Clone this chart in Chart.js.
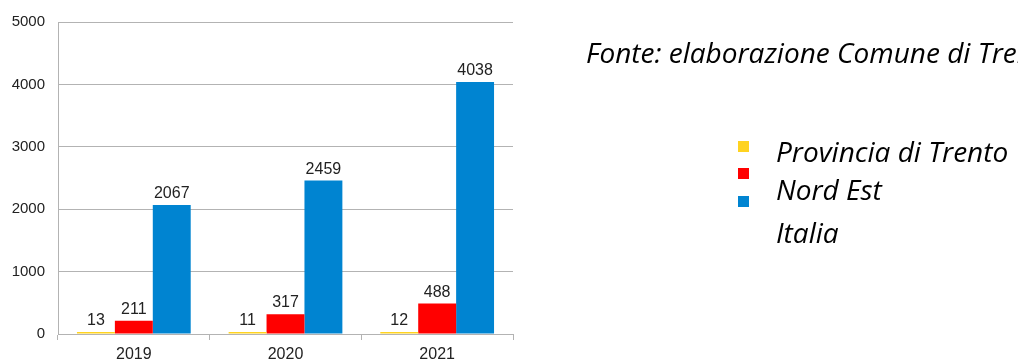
<!DOCTYPE html>
<html>
<head>
<meta charset="utf-8">
<script src="https://cdn.jsdelivr.net/npm/chart.js@4/dist/chart.umd.min.js"></script>
<style>
  html, body { margin: 0; padding: 0; background: #fff; }
  #wrap { position: relative; width: 1018px; height: 362px; overflow: hidden; }
  canvas { display: block; }
</style>
</head>
<body>
<div id="wrap"><canvas id="c" width="1018" height="362"></canvas></div>
<script>
const categories = ['2019', '2020', '2021'];
const provinciaTrento = [13, 11, 12];
const nordEst = [211, 317, 488];
const italia = [2067, 2459, 4038];
const yTicks = [0, 1000, 2000, 3000, 4000, 5000];
const seriesNames = ['Provincia di Trento', 'Nord Est', 'Italia'];
const seriesColors = ['#ffd320', '#ff0000', '#0084d1'];
const sourceNote = 'Fonte: elaborazione Comune di Trento';

const labelFont = '"Liberation Sans", Arial, sans-serif';
const noteFont = 'italic 28px "Open Sans", Lato, sans-serif';
const legendFont = 'italic 28px "Open Sans", Lato, sans-serif';

// value labels above each bar
const valueLabels = {
  id: 'valueLabels',
  afterDatasetsDraw(chart) {
    const ctx = chart.ctx;
    ctx.save();
    ctx.font = '16px ' + labelFont;
    ctx.fillStyle = '#222';
    ctx.textAlign = 'center';
    ctx.textBaseline = 'alphabetic';
    chart.data.datasets.forEach((ds, i) => {
      chart.getDatasetMeta(i).data.forEach((bar, j) => {
        ctx.fillText(String(ds.data[j]), bar.x, bar.y - 7);
      });
    });
    ctx.restore();
  }
};

// side legend and source note
const sidePanel = {
  id: 'sidePanel',
  afterDraw(chart) {
    const ctx = chart.ctx;
    ctx.save();
    ctx.fillStyle = '#000';
    ctx.textAlign = 'left';
    ctx.textBaseline = 'alphabetic';
    ctx.font = noteFont;
    ctx.fillText(sourceNote, 586, 63);

    const boxY = [141, 168, 196];
    const textY = [162, 200, 243];
    ctx.font = legendFont;
    chart.data.datasets.forEach((ds, i) => {
      ctx.fillStyle = ds.backgroundColor;
      ctx.fillRect(738, boxY[i], 11, 11);
      ctx.fillStyle = '#000';
      ctx.fillText(ds.label, 776, textY[i]);
    });
    ctx.restore();
  }
};

new Chart(document.getElementById('c'), {
  type: 'bar',
  data: {
    labels: categories,
    datasets: [
      { label: seriesNames[0], data: provinciaTrento, backgroundColor: seriesColors[0] },
      { label: seriesNames[1], data: nordEst, backgroundColor: seriesColors[1] },
      { label: seriesNames[2], data: italia, backgroundColor: seriesColors[2] }
    ]
  },
  options: {
    responsive: false,
    animation: false,
    layout: { padding: { top: 20, right: 505, left: 0, bottom: 0 } },
    datasets: { bar: { categoryPercentage: 0.75, barPercentage: 1.0, minBarLength: 2 } },
    plugins: { legend: { display: false }, tooltip: { enabled: false } },
    scales: {
      x: {
        grid: { offset: true, drawOnChartArea: false, drawTicks: true, tickLength: 6, color: '#b3b3b3' },
        border: { color: '#b3b3b3' },
        ticks: { color: '#222', font: { family: labelFont, size: 16 }, padding: 5, maxRotation: 0 },
        afterFit(scale) { scale.height = 28; }
      },
      y: {
        min: 0, max: 5000,
        afterBuildTicks(scale) { scale.ticks = yTicks.map(v => ({ value: v })); },
        grid: { color: '#b3b3b3', drawTicks: false },
        border: { color: '#b3b3b3' },
        ticks: { color: '#222', font: { family: labelFont, size: 15 }, padding: 13, callback: v => String(v) },
        afterFit(scale) { scale.width = 58; }
      }
    }
  },
  plugins: [valueLabels, sidePanel]
});
</script>
</body>
</html>
